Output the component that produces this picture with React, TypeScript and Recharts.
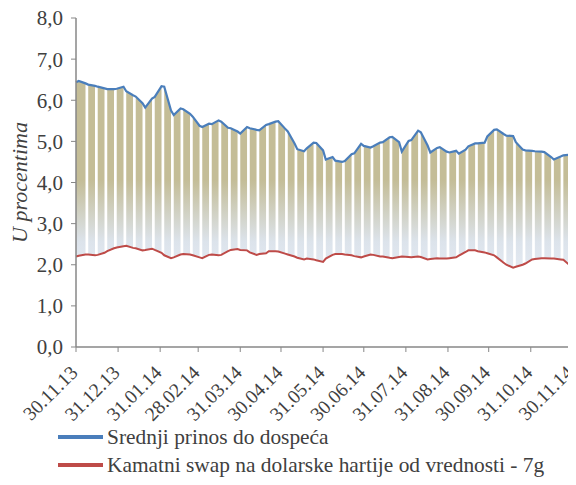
import React from 'react';
import { ComposedChart, Area, Line, XAxis, YAxis } from 'recharts';

// Tick labels (month ends)
const tickLabels = ['30.11.13', '31.12.13', '31.01.14', '28.02.14', '31.03.14', '30.04.14', '31.05.14', '30.06.14', '31.07.14', '31.08.14', '30.09.14', '31.10.14', '30.11.14'];
const yTicks = [0, 1, 2, 3, 4, 5, 6, 7, 8];

// Sample days (days after 30.11.13): start, then each week's Monday open and Friday close
const sampleDays: number[] = [0];
for (let k = 0; k < 52; k++) { sampleDays.push(7 * k + 2, 7 * k + 7); }

// Srednji prinos do dospeća (%)
const blue = [
  6.44,
  6.47, 6.41, 6.38, 6.35, 6.33, 6.29, 6.27, 6.27, 6.28, 6.33,
  6.22, 6.12, 6.09, 5.93, 5.82, 6.04, 6.08, 6.34, 6.33, 5.75,
  5.64, 5.80, 5.78, 5.67, 5.60, 5.38, 5.35, 5.43, 5.42, 5.51,
  5.48, 5.33, 5.32, 5.24, 5.19, 5.35, 5.32, 5.28, 5.27, 5.40,
  5.42, 5.48, 5.49, 5.31, 5.24, 4.95, 4.81, 4.76, 4.83, 4.97,
  4.96, 4.78, 4.56, 4.62, 4.53, 4.50, 4.52, 4.69, 4.71, 4.94,
  4.89, 4.85, 4.88, 4.97, 4.98, 5.10, 5.11, 4.98, 4.75, 5.01,
  5.03, 5.26, 5.22, 4.90, 4.73, 4.84, 4.86, 4.75, 4.73, 4.77,
  4.70, 4.80, 4.88, 4.95, 4.95, 4.97, 5.12, 5.28, 5.29, 5.18,
  5.14, 5.13, 4.98, 4.80, 4.78, 4.77, 4.76, 4.75, 4.74, 4.62,
  4.56, 4.63, 4.66, 4.68,
];

// Kamatni swap na dolarske hartije od vrednosti - 7g (%)
const red = [
  2.20,
  2.22, 2.25, 2.25, 2.23, 2.24, 2.29, 2.33, 2.40, 2.42, 2.45,
  2.46, 2.41, 2.40, 2.35, 2.36, 2.39, 2.36, 2.29, 2.23, 2.16,
  2.18, 2.25, 2.26, 2.25, 2.23, 2.18, 2.16, 2.24, 2.25, 2.23,
  2.24, 2.33, 2.36, 2.38, 2.36, 2.35, 2.30, 2.24, 2.26, 2.28,
  2.33, 2.33, 2.32, 2.27, 2.25, 2.20, 2.17, 2.13, 2.15, 2.13,
  2.11, 2.07, 2.15, 2.24, 2.26, 2.26, 2.25, 2.23, 2.21, 2.18,
  2.20, 2.25, 2.24, 2.20, 2.20, 2.17, 2.16, 2.19, 2.20, 2.19,
  2.18, 2.20, 2.19, 2.13, 2.14, 2.16, 2.15, 2.15, 2.16, 2.18,
  2.22, 2.31, 2.35, 2.35, 2.33, 2.30, 2.28, 2.23, 2.18, 2.05,
  2.00, 1.93, 1.95, 2.00, 2.03, 2.13, 2.14, 2.16, 2.16, 2.15,
  2.15, 2.13, 2.12, 1.98,
];

const seriesNames = ['Srednji prinos do dospeća', 'Kamatni swap na dolarske hartije od vrednosti - 7g'];
const seriesColors = ['#4A7EBB', '#BE4B48'];

const DAY = 86400000;
const START = Date.UTC(2013, 10, 30);
const labelToDay = (s: string) => {
  const [d, m, y] = s.split('.').map(Number);
  return Math.round((Date.UTC(2000 + y, m - 1, d) - START) / DAY);
};
const tickDays = tickLabels.map(labelToDay);
const dayToLabel: Record<number, string> = {};
tickDays.forEach((d, i) => { dayToLabel[d] = tickLabels[i]; });

// Build table: weekend rows (Sunday) carry no band -> white gaps
type Row = { t: number; blue: number | null; red: number | null; band: [number, number] | null };
const rows: Row[] = [];
sampleDays.forEach((t, i) => {
  rows.push({ t, blue: blue[i], red: red[i], band: [red[i], blue[i]] });
  if (t % 7 === 0 && t > 0 && i < sampleDays.length - 1) {
    rows.push({ t: t + 1, blue: null, red: null, band: null });
  }
});

const FONT = '"Liberation Serif", "Times New Roman", serif';
const TEXT = '#404040';
const AXIS = '#878787';

const XTick = (props: any) => {
  const { x, y, payload } = props;
  return (
    <g transform={`translate(${x - 2},${y + 15})`}>
      <text x={0} y={0} dy="0.35em" textAnchor="end" transform="rotate(-45)" fill={TEXT} fontSize={19.5} fontFamily={FONT}>
        {dayToLabel[payload.value]}
      </text>
    </g>
  );
};

export default function App() {
  return (
    <div style={{ position: 'relative', width: 568, height: 469 }}>
      <style>{'svg.recharts-surface { overflow: visible; }'}</style>
      <ComposedChart width={568} height={469} data={rows} margin={{ top: 10, right: 4.5, bottom: 70, left: 0 }}>
        <defs>
          <linearGradient id="bandFill" x1="0" y1="160" x2="0" y2="262" gradientUnits="userSpaceOnUse">
            <stop offset="0" stopColor="#C4BD97" />
            <stop offset="0.12" stopColor="#C4BD97" />
            <stop offset="0.72" stopColor="#DCE3EB" />
            <stop offset="1" stopColor="#E4EAF2" />
          </linearGradient>
        </defs>
        <XAxis
          dataKey="t"
          type="number"
          domain={[0, 365]}
          ticks={tickDays}
          interval={0}
          height={60}
          tick={<XTick />}
          tickLine={{ stroke: AXIS }}
          axisLine={{ stroke: AXIS, strokeWidth: 1.5 }}
          tickSize={5}
        />
        <YAxis
          type="number"
          domain={[0, 8]}
          ticks={yTicks}
          interval={0}
          width={68}
          tickFormatter={(v: number) => v.toFixed(1).replace('.', ',')}
          tick={{ fill: TEXT, fontSize: 21, fontFamily: FONT }}
          tickLine={{ stroke: AXIS }}
          axisLine={{ stroke: AXIS, strokeWidth: 1.5 }}
          tickSize={5}
          tickMargin={8}
          label={{
            value: 'U procentima',
            angle: -90,
            position: 'insideLeft',
            offset: 11,
            style: { textAnchor: 'middle', fill: TEXT, fontSize: 22, fontFamily: FONT, fontStyle: 'italic' },
          }}
        />
        <Area
          type="linear"
          dataKey="band"
          stroke="none"
          fill="url(#bandFill)"
          fillOpacity={1}
          connectNulls={false}
          isAnimationActive={false}
          dot={false}
          activeDot={false}
        />
        <Line type="linear" dataKey="red" stroke={seriesColors[1]} strokeWidth={2} dot={false} activeDot={false} connectNulls isAnimationActive={false} />
        <Line type="linear" dataKey="blue" stroke={seriesColors[0]} strokeWidth={2.2} dot={false} activeDot={false} connectNulls isAnimationActive={false} />
      </ComposedChart>
      <div style={{ position: 'absolute', left: 50, top: 415, fontFamily: FONT, fontSize: 21.4, color: TEXT }}>
        {seriesNames.map((n, i) => (
          <div key={n} style={{ display: 'flex', alignItems: 'center', height: 28 }}>
            <div style={{ width: 45, height: 3.5, background: seriesColors[i], marginRight: 4 }} />
            <span style={{ whiteSpace: 'nowrap' }}>{n}</span>
          </div>
        ))}
      </div>
    </div>
  );
}
